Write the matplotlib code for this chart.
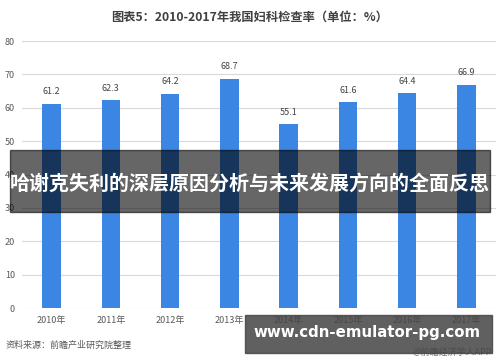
import matplotlib.pyplot as plt
import matplotlib.patches as mpatches
import numpy as np

plt.rcParams['font.family'] = ['Noto Sans CJK SC', 'DejaVu Sans']

years = ['2010年', '2011年', '2012年', '2013年', '2014年', '2015年', '2016年', '2017年']
rates = [61.2, 62.3, 64.2, 68.7, 55.1, 61.6, 64.4, 66.9]

title = '图表5：2010-2017年我国妇科检查率（单位：%）'
source = '资料来源：前瞻产业研究院整理'
banner = '哈谢克失利的深层原因分析与未来发展方向的全面反思'
site = 'www.cdn-emulator-pg.com'

fig = plt.figure(figsize=(5.0, 3.62), dpi=100)
W, H = 500, 362

# axes placed in pixel coords: x 22..496, y(0)=308, y(80)=41
ax = fig.add_axes([22 / W, 1 - 308 / H, (496 - 22) / W, (308 - 41) / H])
x = np.arange(len(years))
ax.bar(x, rates, width=0.31, color='#3b86e3', zorder=2)
for xi, v in zip(x, rates):
    ax.text(xi, v + 2.2, f'{v}', ha='center', va='bottom', fontsize=6.5, color='#444444')

ax.set_xlim(-0.5, len(years) - 0.5)
ax.set_ylim(0, 80)
ax.set_yticks(np.arange(0, 81, 10))
ax.yaxis.grid(True, color='#d9d9d9', linewidth=0.8, zorder=0)
ax.set_xticks(x)
ax.set_xticklabels(years)
ax.tick_params(axis='both', length=0, labelsize=6.5, labelcolor='#595959')
ax.tick_params(axis='y', pad=5)
ax.tick_params(axis='x', pad=6)
for s in ax.spines.values():
    s.set_visible(False)

fig.text(0.5, 1 - 17 / H, title, ha='center', va='center', fontsize=8.8,
         fontweight='bold', color='#404040')
fig.text(6 / W, 1 - 345 / H, source, ha='left', va='center', fontsize=6.5,
         color='#595959', style='italic')
fig.text(492 / W, 1 - 352 / H, '@前瞻经济学人APP', ha='right', va='center',
         fontsize=6.5, color='#777777')

# overlay banner
fig.patches.append(mpatches.Rectangle((10 / W, 1 - 212 / H), 480 / W, 62 / H,
                                      transform=fig.transFigure, color='black',
                                      alpha=0.6, zorder=5))
fig.text(250 / W, 1 - 183 / H, banner, ha='center', va='center', fontsize=14.4,
         fontweight='bold', color='white', zorder=6)

# site box
fig.patches.append(mpatches.Rectangle((245 / W, 1 - 353 / H), 247 / W, 38 / H,
                                      transform=fig.transFigure, color='#444444',
                                      alpha=0.85, zorder=5))
fig.text(367 / W, 1 - 333 / H, site, ha='center', va='center', fontsize=10.8,
         fontweight='bold', color='white', family='DejaVu Sans', zorder=6)

fig.savefig('out.png', dpi=100)
